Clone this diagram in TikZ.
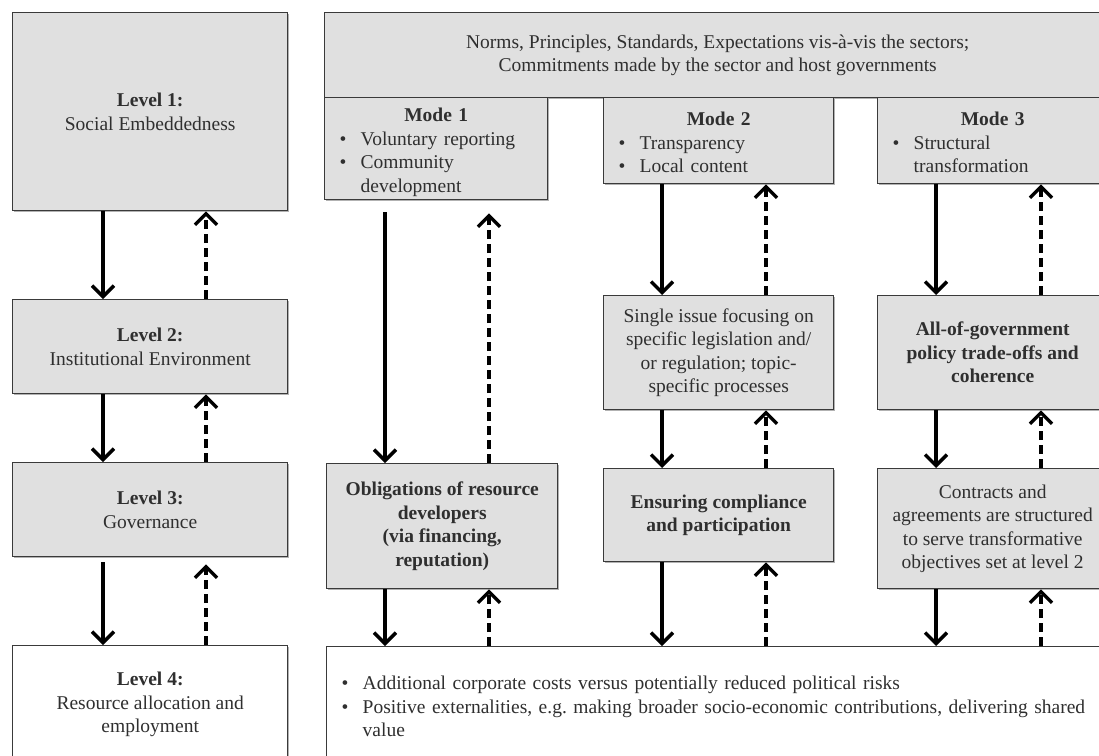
\documentclass[tikz,border=0pt]{standalone}
\usepackage{fontspec}
\setmainfont{Liberation Serif}
\usetikzlibrary{arrows.meta,shadows}
\definecolor{boxfill}{HTML}{E0E0E0}
\definecolor{boxline}{HTML}{3A3A3A}
\definecolor{txt}{HTML}{2F2F2F}
\newcommand\bitem[1]{\par\noindent\makebox[32pt][l]{\hspace{11pt}•}\begin{tabular}[t]{@{}l@{}}#1\end{tabular}}
\tikzset{
  bx/.style={draw=boxline, line width=1.4pt, fill=boxfill, inner sep=4pt, align=center,
    text=txt, font=\fontsize{19.5}{23.5}\selectfont, anchor=north west,
    drop shadow={shadow xshift=1.2pt, shadow yshift=-1.2pt, opacity=0.3, fill=black}},
  wbx/.style={bx, fill=white},
  modebox/.style={bx, align=left, inner ysep=0pt, text height=24pt},
  sar/.style={draw=black, line width=3.4pt, -{Straight Barb[length=11pt,width=22pt]}},
  dar/.style={sar, dash pattern=on 9pt off 5pt}
}
\begin{document}
\begin{tikzpicture}[x=1pt,y=-1pt]
\useasboundingbox (0,0) rectangle (1099,755);
\clip (0,0) rectangle (1099,755);
% left column: levels
\node[bx, minimum width=275pt, minimum height=198pt] (l1) at (12,12) {\textbf{Level 1:}\\Social Embeddedness};
\node[bx, minimum width=275pt, minimum height=94pt] (l2) at (12,299) {\textbf{Level 2:}\\Institutional Environment};
\node[bx, minimum width=275pt, minimum height=94pt] (l3) at (12,462) {\textbf{Level 3:}\\Governance};
\node[wbx, minimum width=275pt, minimum height=118pt] (l4) at (12,645) {\textbf{Level 4:}\\Resource allocation and\\employment};
% top banner and modes
\node[bx, minimum width=786pt, minimum height=85pt] (top) at (324,12) {Norms, Principles, Standards, Expectations vis-à-vis the sectors;\\Commitments made by the sector and host governments};
\node[modebox, minimum height=102pt, text width=215pt] (m1) at (324,97)
  {\centerline{\bfseries Mode 1}\bitem{Voluntary reporting}\bitem{Community\\development}};
\node[modebox, minimum height=86pt, text width=222pt] (m2) at (603,97)
  {\centerline{\bfseries Mode 2}\bitem{Transparency}\bitem{Local content}};
\node[modebox, minimum height=86pt, text width=222pt] (m3) at (877,97)
  {\centerline{\bfseries Mode 3}\bitem{Structural\\transformation}};
% middle boxes
\node[bx, minimum width=230pt, minimum height=114pt] (si) at (603,295) {Single issue focusing on\\specific legislation and/\\or regulation; topic-\\specific processes};
\node[bx, minimum width=230pt, minimum height=114pt] (ag) at (877,295) {\textbf{All-of-government}\\\textbf{policy trade-offs and}\\\textbf{coherence}};
\node[bx, minimum width=231pt, minimum height=125pt] (ob) at (326,463) {\textbf{Obligations of resource}\\\textbf{developers}\\\textbf{(via financing,}\\\textbf{reputation)}};
\node[bx, minimum width=230pt, minimum height=93pt] (en) at (603,468) {\textbf{Ensuring compliance}\\\textbf{and participation}};
\node[bx, minimum width=230pt, minimum height=120pt] (ct) at (877,468) {Contracts and\\agreements are structured\\to serve transformative\\objectives set at level 2};
% bottom box
\node[wbx, minimum height=117pt, text width=776pt, align=left] (bt) at (326,646)
  {\bitem{Additional corporate costs versus potentially reduced political risks}\bitem{Positive externalities, e.g.\ making broader socio-economic contributions, delivering shared\\value}};
% arrow columns
\coordinate (Ls) at ([xshift=91pt]l1.south west);
\coordinate (Ld) at ([xshift=194pt]l1.south west);
\coordinate (C1s) at ([xshift=61pt]m1.south west);
\coordinate (C1d) at ([xshift=165pt]m1.south west);
\coordinate (C2s) at ([xshift=59pt]m2.south west);
\coordinate (C2d) at ([xshift=163pt]m2.south west);
\coordinate (C3s) at ([xshift=59pt]m3.south west);
\coordinate (C3d) at ([xshift=164pt]m3.south west);
% left arrows
\draw[sar] (Ls |- l1.south) -- (Ls |- l2.north);
\draw[dar] (Ld |- l2.north) -- (Ld |- l1.south);
\draw[sar] (Ls |- l2.south) -- (Ls |- l3.north);
\draw[dar] (Ld |- l3.north) -- (Ld |- l2.south);
\draw[sar, shorten <=5pt] (Ls |- l3.south) -- (Ls |- l4.north);
\draw[dar, shorten >=7pt] (Ld |- l4.north) -- (Ld |- l3.south);
% mode 1 column
\draw[sar, shorten <=12pt] (C1s |- m1.south) -- (C1s |- ob.north);
\draw[dar, shorten >=13pt] (C1d |- ob.north) -- (C1d |- m1.south);
\draw[sar] (C1s |- ob.south) -- (C1s |- bt.north);
\draw[dar] (C1d |- bt.north) -- (C1d |- ob.south);
% mode 2 column
\draw[sar] (C2s |- m2.south) -- (C2s |- si.north);
\draw[dar] (C2d |- si.north) -- (C2d |- m2.south);
\draw[sar] (C2s |- si.south) -- (C2s |- en.north);
\draw[dar] (C2d |- en.north) -- (C2d |- si.south);
\draw[sar] (C2s |- en.south) -- (C2s |- bt.north);
\draw[dar] (C2d |- bt.north) -- (C2d |- en.south);
% mode 3 column
\draw[sar] (C3s |- m3.south) -- (C3s |- ag.north);
\draw[dar] (C3d |- ag.north) -- (C3d |- m3.south);
\draw[sar] (C3s |- ag.south) -- (C3s |- ct.north);
\draw[dar] (C3d |- ct.north) -- (C3d |- ag.south);
\draw[sar] (C3s |- ct.south) -- (C3s |- bt.north);
\draw[dar] (C3d |- bt.north) -- (C3d |- ct.south);
\end{tikzpicture}
\end{document}
